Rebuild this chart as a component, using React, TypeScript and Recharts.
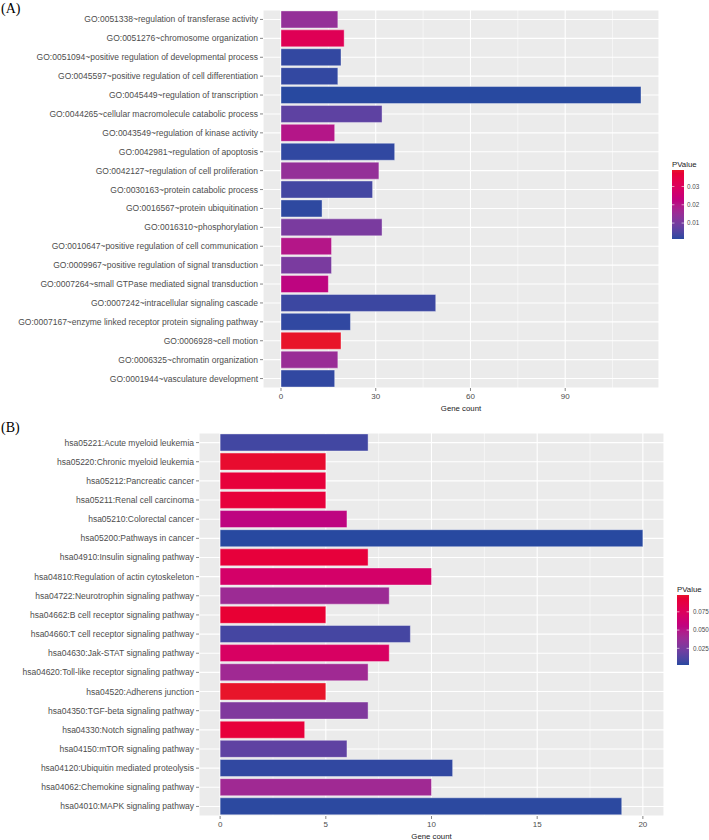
import React from 'react';
import { BarChart, Bar, XAxis, YAxis, CartesianGrid, Cell, Label } from 'recharts';

// ---------- Data: panel A (GO terms) ----------
const goTerms = [
  'GO:0051338~regulation of transferase activity',
  'GO:0051276~chromosome organization',
  'GO:0051094~positive regulation of developmental process',
  'GO:0045597~positive regulation of cell differentiation',
  'GO:0045449~regulation of transcription',
  'GO:0044265~cellular macromolecule catabolic process',
  'GO:0043549~regulation of kinase activity',
  'GO:0042981~regulation of apoptosis',
  'GO:0042127~regulation of cell proliferation',
  'GO:0030163~protein catabolic process',
  'GO:0016567~protein ubiquitination',
  'GO:0016310~phosphorylation',
  'GO:0010647~positive regulation of cell communication',
  'GO:0009967~positive regulation of signal transduction',
  'GO:0007264~small GTPase mediated signal transduction',
  'GO:0007242~intracellular signaling cascade',
  'GO:0007167~enzyme linked receptor protein signaling pathway',
  'GO:0006928~cell motion',
  'GO:0006325~chromatin organization',
  'GO:0001944~vasculature development',
];
const goCounts = [18, 20, 19, 18, 114, 32, 17, 36, 31, 29, 13, 32, 16, 16, 15, 49, 22, 19, 18, 17];
const goPValues = [
  0.0145, 0.0315, 0.0022, 0.0022, 0.0013, 0.0068, 0.02, 0.002, 0.0145, 0.0038,
  0.0018, 0.0105, 0.02, 0.0105, 0.022, 0.003, 0.002, 0.039, 0.0153, 0.002,
];
const goTicks = [0, 30, 60, 90];
const goMinorTicks = [15, 45, 75, 105];
const goLegendValues = [0.01, 0.02, 0.03];
const goLegendLabels = ['0.01', '0.02', '0.03'];

// ---------- Data: panel B (KEGG pathways) ----------
const keggTerms = [
  'hsa05221:Acute myeloid leukemia',
  'hsa05220:Chronic myeloid leukemia',
  'hsa05212:Pancreatic cancer',
  'hsa05211:Renal cell carcinoma',
  'hsa05210:Colorectal cancer',
  'hsa05200:Pathways in cancer',
  'hsa04910:Insulin signaling pathway',
  'hsa04810:Regulation of actin cytoskeleton',
  'hsa04722:Neurotrophin signaling pathway',
  'hsa04662:B cell receptor signaling pathway',
  'hsa04660:T cell receptor signaling pathway',
  'hsa04630:Jak-STAT signaling pathway',
  'hsa04620:Toll-like receptor signaling pathway',
  'hsa04520:Adherens junction',
  'hsa04350:TGF-beta signaling pathway',
  'hsa04330:Notch signaling pathway',
  'hsa04150:mTOR signaling pathway',
  'hsa04120:Ubiquitin mediated proteolysis',
  'hsa04062:Chemokine signaling pathway',
  'hsa04010:MAPK signaling pathway',
];
const keggCounts = [7, 5, 5, 5, 6, 20, 7, 10, 8, 5, 9, 8, 7, 5, 7, 4, 6, 11, 10, 19];
const keggPValues = [
  0.008, 0.096, 0.091, 0.091, 0.055, 0.0022, 0.091, 0.069, 0.039, 0.094,
  0.009, 0.072, 0.0405, 0.098, 0.028, 0.091, 0.0166, 0.004, 0.0405, 0.003,
];
const keggTicks = [0, 5, 10, 15, 20];
const keggMinorTicks = [2.5, 7.5, 12.5, 17.5];
const keggLegendValues = [0.025, 0.05, 0.075];
const keggLegendLabels = ['0.025', '0.050', '0.075'];

const LOW = '#2849A0';
const HIGH = '#E8152A';
const FONT = '"Liberation Sans", Arial, sans-serif';

// ---------- LCh colour interpolation ----------
function hexToRgb(h: string) {
  const n = parseInt(h.slice(1), 16);
  return [(n >> 16) & 255, (n >> 8) & 255, n & 255];
}
function toLin(c: number) {
  c /= 255;
  return c <= 0.04045 ? c / 12.92 : Math.pow((c + 0.055) / 1.055, 2.4);
}
function fromLin(c: number) {
  const v = c <= 0.0031308 ? 12.92 * c : 1.055 * Math.pow(Math.max(c, 0), 1 / 2.4) - 0.055;
  return Math.max(0, Math.min(255, Math.round(v * 255)));
}
const WX = 0.95047, WY = 1.0, WZ = 1.08883;
function f(t: number) {
  return t > 0.008856 ? Math.cbrt(t) : 7.787 * t + 16 / 116;
}
function finv(t: number) {
  return t * t * t > 0.008856 ? t * t * t : (t - 16 / 116) / 7.787;
}
function rgbToLch(rgb: number[]) {
  const [r, g, b] = rgb.map(toLin);
  const x = (0.4124 * r + 0.3576 * g + 0.1805 * b) / WX;
  const y = (0.2126 * r + 0.7152 * g + 0.0722 * b) / WY;
  const z = (0.0193 * r + 0.1192 * g + 0.9505 * b) / WZ;
  const L = 116 * f(y) - 16, A = 500 * (f(x) - f(y)), B = 200 * (f(y) - f(z));
  let h = (Math.atan2(B, A) * 180) / Math.PI;
  if (h < 0) h += 360;
  return [L, Math.sqrt(A * A + B * B), h];
}
function lchToHex(lch: number[]) {
  const [L, C, H] = lch;
  const a = C * Math.cos((H * Math.PI) / 180);
  const bb = C * Math.sin((H * Math.PI) / 180);
  const fy = (L + 16) / 116;
  const fx = fy + a / 500;
  const fz = fy - bb / 200;
  const x = finv(fx) * WX, y = finv(fy) * WY, z = finv(fz) * WZ;
  const r = 3.2406 * x - 1.5372 * y - 0.4986 * z;
  const g = -0.9689 * x + 1.8758 * y + 0.0415 * z;
  const b = 0.0557 * x - 0.204 * y + 1.057 * z;
  return '#' + [r, g, b].map(fromLin).map((v) => v.toString(16).padStart(2, '0')).join('');
}
const lchLow = rgbToLch(hexToRgb(LOW));
const lchHigh = rgbToLch(hexToRgb(HIGH));
let hueDiff = lchHigh[2] - lchLow[2];
if (hueDiff > 180) hueDiff -= 360;
if (hueDiff < -180) hueDiff += 360;
function colorAt(t: number) {
  const tt = Math.max(0, Math.min(1, t));
  return lchToHex([
    lchLow[0] + (lchHigh[0] - lchLow[0]) * tt,
    lchLow[1] + (lchHigh[1] - lchLow[1]) * tt,
    lchLow[2] + hueDiff * tt,
  ]);
}

// ---------- Colourbar legend ----------
function ColorBar(props: {
  id: string; x: number; titleY: number; barTop: number; h: number; pmin: number; pmax: number;
  values: number[]; labels: string[]; labelGap: number;
}) {
  const { id, x, titleY, barTop, h, pmin, pmax, values, labels, labelGap } = props;
  const w = 12;
  const stops = Array.from({ length: 21 }, (_, i) => i / 20);
  return (
    <g>
      <defs>
        <linearGradient id={id} x1="0" y1="1" x2="0" y2="0">
          {stops.map((s) => (
            <stop key={s} offset={s} stopColor={colorAt(s)} />
          ))}
        </linearGradient>
      </defs>
      <text x={x} y={titleY} fontSize={7.8} fill="#1a1a1a" fontFamily={FONT}>PValue</text>
      <rect x={x} y={barTop} width={w} height={h} fill={`url(#${id})`} />
      {values.map((v, i) => {
        const ty = barTop + h - ((v - pmin) / (pmax - pmin)) * h;
        return (
          <g key={i}>
            <line x1={x} x2={x + 2.4} y1={ty} y2={ty} stroke="#fff" strokeWidth={0.6} />
            <line x1={x + w - 2.4} x2={x + w} y1={ty} y2={ty} stroke="#fff" strokeWidth={0.6} />
            <text x={x + w + labelGap} y={ty + 2.2} fontSize={6.3} fill="#4d4d4d" fontFamily={FONT}>
              {labels[i]}
            </text>
          </g>
        );
      })}
    </g>
  );
}

function YTick(props: any) {
  const { x, y, payload } = props;
  return (
    <text x={x} y={y} dy="0.35em" textAnchor="end" fontSize={8.5} fill="#4d4d4d" fontFamily={FONT}>
      {payload.value}
    </text>
  );
}

// ---------- One bar panel ----------
function Panel(props: {
  terms: string[]; counts: number[]; pvals: number[]; ticks: number[]; minor: number[];
  height: number; top: number; right: number; yWidth: number; xHeight: number; labelOffset: number;
}) {
  const { terms, counts, pvals, ticks, minor, height, top, right, yWidth, xHeight, labelOffset } = props;
  const data = terms.map((name, i) => ({ name, count: counts[i], p: pvals[i] }));
  const maxC = Math.max(...counts);
  const d0 = -0.05 * maxC;
  const d1 = 1.05 * maxC;
  const pmin = Math.min(...pvals);
  const pmax = Math.max(...pvals);
  const minorGen = (args: any) => {
    const off = args.offset;
    return minor.map((m) => off.left + ((m - d0) / (d1 - d0)) * off.width);
  };
  return (
    <BarChart
      width={709}
      height={height}
      data={data}
      layout="vertical"
      margin={{ top, right, bottom: 0, left: 0 }}
      barCategoryGap="5%"
    >
      <CartesianGrid
        fill="#EBEBEB"
        stroke="#FFFFFF"
        strokeWidth={0.55}
        horizontal={false}
        verticalCoordinatesGenerator={minorGen}
      />
      <CartesianGrid stroke="#FFFFFF" strokeWidth={1.1} />
      <XAxis
        type="number"
        dataKey="count"
        domain={[d0, d1]}
        ticks={ticks}
        allowDataOverflow
        axisLine={false}
        tickLine={{ stroke: '#333333', strokeWidth: 0.6 }}
        tickSize={3}
        tick={{ fontSize: 8, fill: '#4d4d4d', fontFamily: FONT }}
        height={xHeight}
      >
        <Label
          value="Gene count"
          position="insideBottom"
          offset={labelOffset}
          style={{ fontSize: 7.8, fill: '#1a1a1a', fontFamily: FONT }}
        />
      </XAxis>
      <YAxis
        type="category"
        dataKey="name"
        width={yWidth}
        interval={0}
        axisLine={false}
        tickLine={{ stroke: '#333333', strokeWidth: 0.6 }}
        tickSize={3}
        tick={<YTick />}
      />
      <Bar dataKey="count" isAnimationActive={false} stroke="#ffffff" strokeOpacity={0.55} strokeWidth={0.7}>
        {data.map((d, i) => (
          <Cell key={i} fill={colorAt((d.p - pmin) / (pmax - pmin))} />
        ))}
      </Bar>
    </BarChart>
  );
}

export default function App() {
  return (
    <div style={{ position: 'absolute', left: 0, top: 0, width: 709, height: 840, background: '#fff' }}>
      <div style={{ position: 'absolute', left: 0, top: 0 }}>
        <Panel
          terms={goTerms} counts={goCounts} pvals={goPValues} ticks={goTicks} minor={goMinorTicks}
          height={415} top={10} right={50} yWidth={263} xHeight={27} labelOffset={4}
        />
      </div>
      <div style={{ position: 'absolute', left: 0, top: 420 }}>
        <Panel
          terms={keggTerms} counts={keggCounts} pvals={keggPValues} ticks={keggTicks} minor={keggMinorTicks}
          height={420} top={13} right={45} yWidth={199} xHeight={24} labelOffset={1}
        />
      </div>
      <svg width={709} height={840} style={{ position: 'absolute', left: 0, top: 0, pointerEvents: 'none' }}>
        <text x={1} y={13} fontSize={14} fontFamily='"Liberation Serif", "Times New Roman", serif' fill="#000">(A)</text>
        <text x={1} y={432} fontSize={14} fontFamily='"Liberation Serif", "Times New Roman", serif' fill="#000">(B)</text>
        <ColorBar
          id="gradA" x={672} titleY={167} barTop={170} h={69}
          pmin={Math.min(...goPValues)} pmax={Math.max(...goPValues)}
          values={goLegendValues} labels={goLegendLabels} labelGap={3}
        />
        <ColorBar
          id="gradB" x={677} titleY={592} barTop={595} h={70}
          pmin={Math.min(...keggPValues)} pmax={Math.max(...keggPValues)}
          values={keggLegendValues} labels={keggLegendLabels} labelGap={4}
        />
      </svg>
    </div>
  );
}
